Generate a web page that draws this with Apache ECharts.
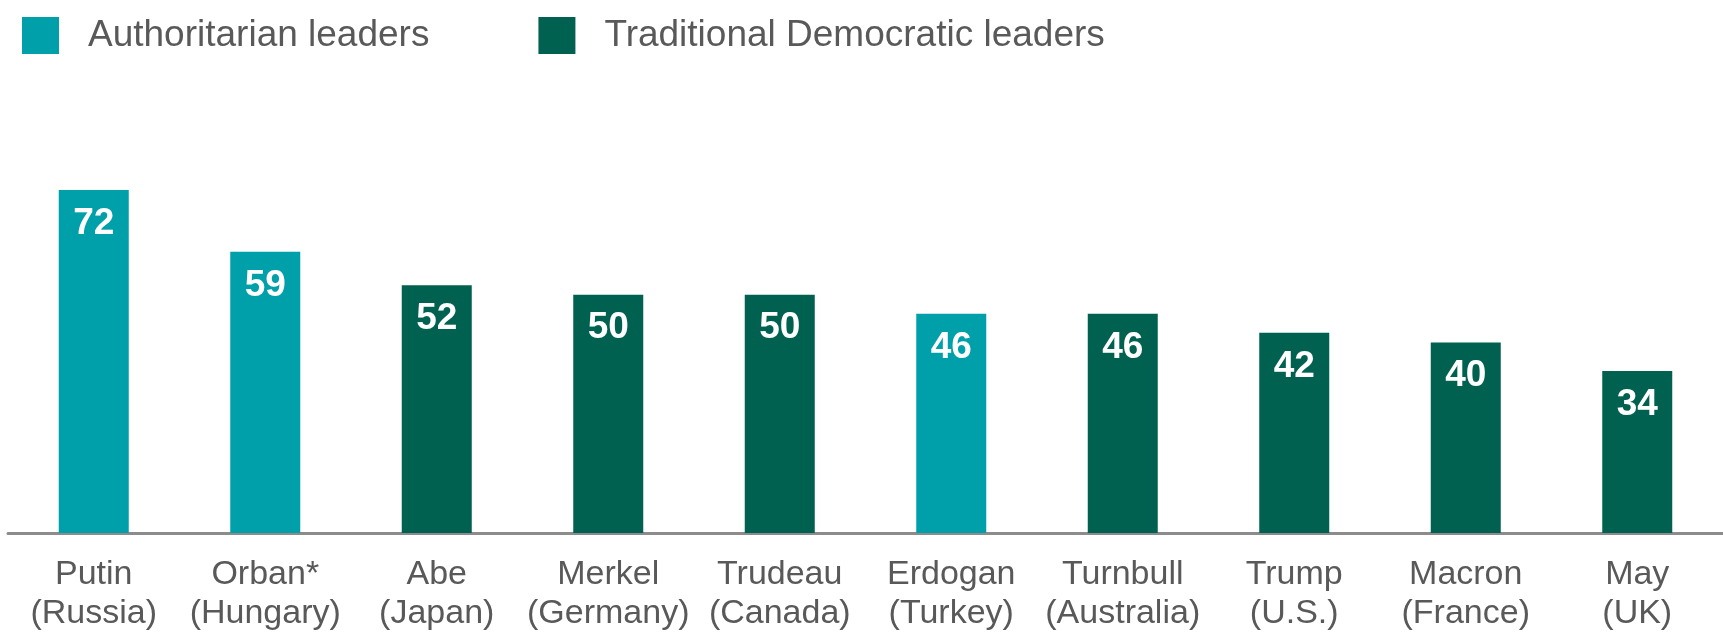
<!DOCTYPE html>
<html>
<head>
<meta charset="utf-8">
<script src="https://cdn.jsdelivr.net/npm/echarts@6/dist/echarts.min.js"></script>
<style>
  html, body { margin: 0; padding: 0; background: #ffffff; }
  #chart { width: 1723px; height: 633px; }
</style>
</head>
<body>
<div id="chart"></div>
<script>
// Leader approval ratings, grouped by leadership style
const leaders = ['Putin', 'Orban*', 'Abe', 'Merkel', 'Trudeau', 'Erdogan', 'Turnbull', 'Trump', 'Macron', 'May'];
const countries = ['Russia', 'Hungary', 'Japan', 'Germany', 'Canada', 'Turkey', 'Australia', 'U.S.', 'France', 'UK'];
const authoritarian = [72, 59, null, null, null, 46, null, null, null, null];
const democratic = [null, null, 52, 50, 50, null, 46, 42, 40, 34];
const seriesNames = ['Authoritarian leaders', 'Traditional Democratic leaders'];

const categories = leaders.map((name, i) => name + '\n(' + countries[i] + ')');
const FONT = "'Liberation Sans', Arial, sans-serif";
const TEAL = '#00A0AA';
const GREEN = '#006150';

const valueLabel = {
  show: true,
  position: 'insideTop',
  distance: 15,
  color: '#ffffff',
  fontFamily: FONT,
  fontWeight: 'bold',
  fontSize: 37
};

const chart = echarts.init(document.getElementById('chart'), null, { renderer: 'canvas' });
chart.setOption({
  animation: false,
  backgroundColor: '#ffffff',
  legend: {
    left: 17,
    top: 12,
    itemWidth: 37,
    itemHeight: 37,
    itemGap: 109,
    icon: 'rect',
    textStyle: {
      color: '#595959',
      fontFamily: FONT,
      fontSize: 37,
      padding: [0, 0, 0, 24]
    },
    data: seriesNames
  },
  grid: {
    left: 8,
    top: 56.5,
    width: 1728,
    height: 477.5
  },
  xAxis: {
    type: 'category',
    data: categories,
    axisLine: { show: true, lineStyle: { color: '#8c8c8c', width: 3 } },
    axisTick: { show: false },
    axisLabel: {
      interval: 0,
      margin: 22,
      color: '#595959',
      fontFamily: FONT,
      fontSize: 34,
      lineHeight: 39
    }
  },
  yAxis: {
    type: 'value',
    min: 0,
    max: 100,
    show: false,
    splitLine: { show: false }
  },
  series: [
    {
      name: seriesNames[0],
      type: 'bar',
      stack: 'rating',
      barWidth: 70,
      itemStyle: { color: TEAL },
      label: valueLabel,
      data: authoritarian
    },
    {
      name: seriesNames[1],
      type: 'bar',
      stack: 'rating',
      barWidth: 70,
      itemStyle: { color: GREEN },
      label: valueLabel,
      data: democratic
    }
  ]
});
</script>
</body>
</html>
